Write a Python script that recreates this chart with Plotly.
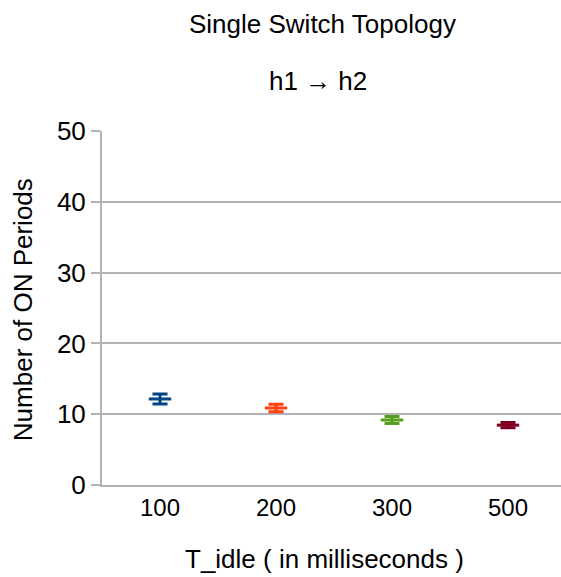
import plotly.graph_objects as go

# Idle timeout settings and the measured ON-period counts
t_idle = ["100", "200", "300", "500"]
mean_on_periods = [12.15, 10.88, 9.18, 8.45]
err_on_periods = [0.7, 0.54, 0.5, 0.37]
colors = ["#004586", "#ff420e", "#579d1c", "#7e0021"]

y_ticks = [0, 10, 20, 30, 40, 50]

FONT = "Liberation Sans, Arial, sans-serif"
GRID = "#b3b3b3"

fig = go.Figure()
for cat, m, e, c in zip(t_idle, mean_on_periods, err_on_periods, colors):
    fig.add_trace(go.Scatter(
        x=[cat], y=[m],
        mode="markers",
        marker=dict(symbol="line-ew-open", size=16, color=c,
                    line=dict(color=c, width=3)),
        error_y=dict(type="data", array=[e], visible=True,
                     color=c, thickness=3, width=7.5),
        showlegend=False,
        hoverinfo="x+y",
    ))

fig.update_layout(
    width=561, height=577,
    margin=dict(l=102, r=0, t=131, b=92),
    paper_bgcolor="white", plot_bgcolor="white",
    font=dict(family=FONT, size=24, color="black"),
    xaxis=dict(
        type="category",
        categoryorder="array", categoryarray=t_idle,
        range=[-0.5, -0.5 + 459 / 116],
        showgrid=False, zeroline=False,
        showline=True, linecolor=GRID, linewidth=2,
        ticks="", tickfont=dict(size=24),
    ),
    yaxis=dict(
        range=[0, 50], tickvals=y_ticks,
        showgrid=True, gridcolor=GRID, gridwidth=2,
        zeroline=False,
        showline=True, linecolor=GRID, linewidth=2,
        ticks="outside", ticklen=9, tickcolor=GRID, tickwidth=2,
        tickfont=dict(size=26),
    ),
    annotations=[
        dict(text="Single Switch Topology", x=0.48, y=1.302, xref="paper", yref="paper",
             showarrow=False, xanchor="center", yanchor="middle", font=dict(size=26)),
        dict(text="h1 → h2", x=0.47, y=1.141, xref="paper", yref="paper",
             showarrow=False, xanchor="center", yanchor="middle", font=dict(size=26)),
        dict(text="T_idle ( in milliseconds )", x=0.484, y=-0.21, xref="paper", yref="paper",
             showarrow=False, xanchor="center", yanchor="middle", font=dict(size=26)),
        dict(text="Number of ON Periods", x=-0.172, y=0.494, xref="paper", yref="paper",
             showarrow=False, xanchor="center", yanchor="middle", textangle=-90,
             font=dict(size=26)),
    ],
)

fig.write_html("out.html")
